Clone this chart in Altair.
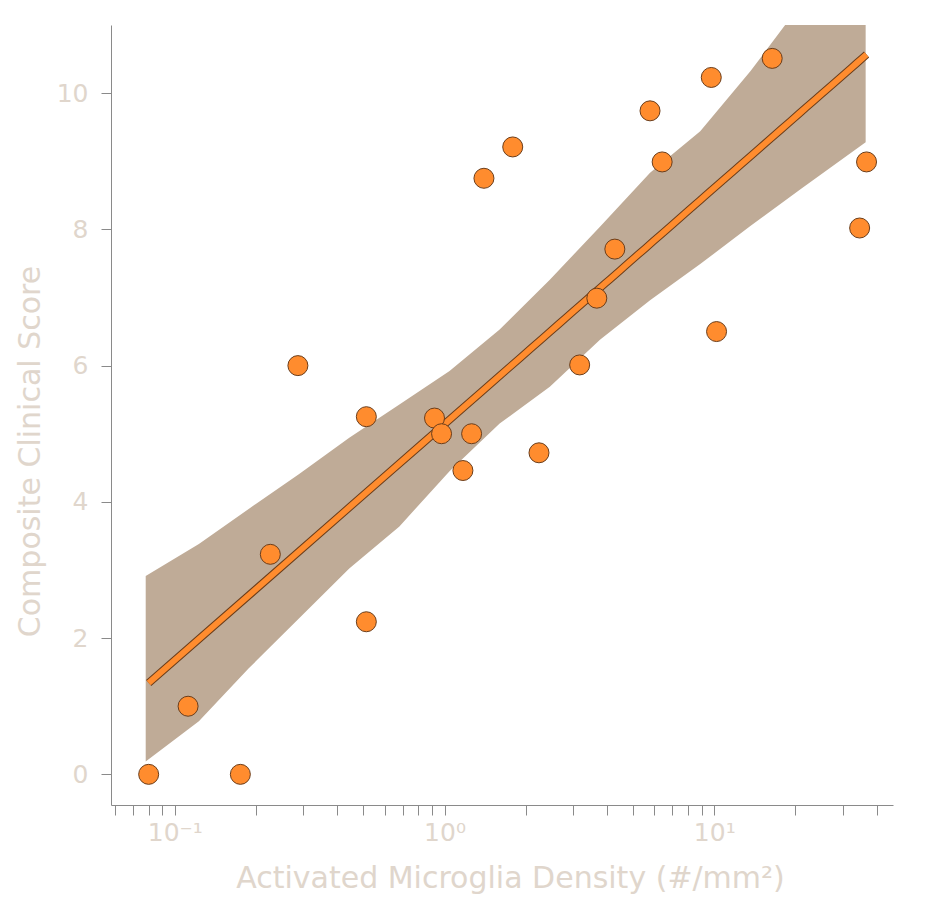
import altair as alt
import pandas as pd

# Scatter data
density = [0.080, 0.112, 0.175, 0.226, 0.286, 0.513, 0.513, 0.918, 0.975, 1.17,
           1.26, 1.40, 1.79, 2.24, 3.17, 3.67, 4.28, 5.78, 6.41, 9.75,
           10.2, 16.4, 34.6, 36.7]
score = [0.0, 1.0, 0.0, 3.23, 6.0, 5.25, 2.24, 5.23, 5.0, 4.46,
         5.0, 8.75, 9.21, 4.72, 6.01, 6.99, 7.71, 9.74, 8.99, 10.23,
         6.5, 10.51, 8.02, 8.99]

# Confidence band edges
band_x = [0.078, 0.1228, 0.1884, 0.2891, 0.4434, 0.6803, 1.0437, 1.601,
          2.457, 3.770, 5.782, 8.872, 13.61, 20.88, 36.42]
band_lo = [0.19, 0.78, 1.56, 2.29, 3.02, 3.64, 4.45, 5.15,
           5.69, 6.38, 6.96, 7.49, 8.05, 8.59, 9.28]
band_hi = [2.91, 3.38, 3.90, 4.41, 4.94, 5.43, 5.92, 6.53,
           7.26, 8.04, 8.83, 9.44, 10.32, 11.3, 12.6]

x_ticks = [0.06, 0.07, 0.08, 0.09, 0.1, 0.2, 0.3, 0.4, 0.5, 0.6, 0.7, 0.8, 0.9,
           1, 2, 3, 4, 5, 6, 7, 8, 9, 10, 20, 30, 40]
y_ticks = [0, 2, 4, 6, 8, 10]

pts = pd.DataFrame({"x": density, "y": score})
band = pd.DataFrame({"x": band_x, "lo": band_lo, "hi": band_hi})

FONT = "DejaVu Sans"
TXT = "#e0d6cc"
AX = "#8a8a8a"
ORANGE = "#ff8c2e"
EDGE = "#6b3d1a"
BAND = "#bfab97"

xs = alt.Scale(type="log", domain=[0.058, 46], nice=False)
ys = alt.Scale(domain=[-0.45, 11], nice=False)

x_axis = alt.Axis(
    values=x_ticks,
    labelExpr="datum.value == 0.1 ? '10⁻¹' : datum.value == 1 ? '10⁰' : datum.value == 10 ? '10¹' : ''",
    title="Activated Microglia Density (#/mm²)",
    grid=False, domainColor=AX, tickColor=AX, tickSize=10,
    labelFont=FONT, labelFontSize=25, labelColor=TXT, labelPadding=5,
    labelFlush=False, labelOverlap=False,
    titleFont=FONT, titleFontSize=30, titleColor=TXT, titleFontWeight="normal",
    titleX=399, titleY=58,
)
y_axis = alt.Axis(
    values=y_ticks, format="d",
    title="Composite Clinical Score",
    grid=False, domainColor=AX, tickColor=AX, tickSize=10,
    labelFont=FONT, labelFontSize=25, labelColor=TXT, labelPadding=13,
    titleFont=FONT, titleFontSize=30, titleColor=TXT, titleFontWeight="normal",
    titleX=-66, titleY=426,
)

band_layer = alt.Chart(band).mark_area(color=BAND, opacity=1, clip=True).encode(
    x=alt.X("x:Q", scale=xs, axis=x_axis),
    y=alt.Y("lo:Q", scale=ys, axis=y_axis),
    y2="hi:Q",
)

reg_base = alt.Chart(pts).transform_regression("x", "y", method="log")
line_edge = reg_base.mark_line(color=EDGE, strokeWidth=8, clip=True).encode(
    x=alt.X("x:Q", scale=xs), y=alt.Y("y:Q", scale=ys))
line_main = reg_base.mark_line(color=ORANGE, strokeWidth=6, clip=True).encode(
    x=alt.X("x:Q", scale=xs), y=alt.Y("y:Q", scale=ys))

points = alt.Chart(pts).mark_point(
    filled=True, shape="circle", size=400, fill=ORANGE, stroke=EDGE,
    strokeWidth=1, opacity=1,
).encode(x=alt.X("x:Q", scale=xs), y=alt.Y("y:Q", scale=ys))

chart = alt.layer(band_layer, line_edge, line_main, points).properties(
    width=782, height=780,
    background="white",
    autosize=alt.AutoSizeParams(type="none"),
    padding={"left": 103, "top": 17, "right": 31, "bottom": 111},
).configure_view(stroke=None)

chart.save("out.html", embed_options={"renderer": "svg", "actions": False})
